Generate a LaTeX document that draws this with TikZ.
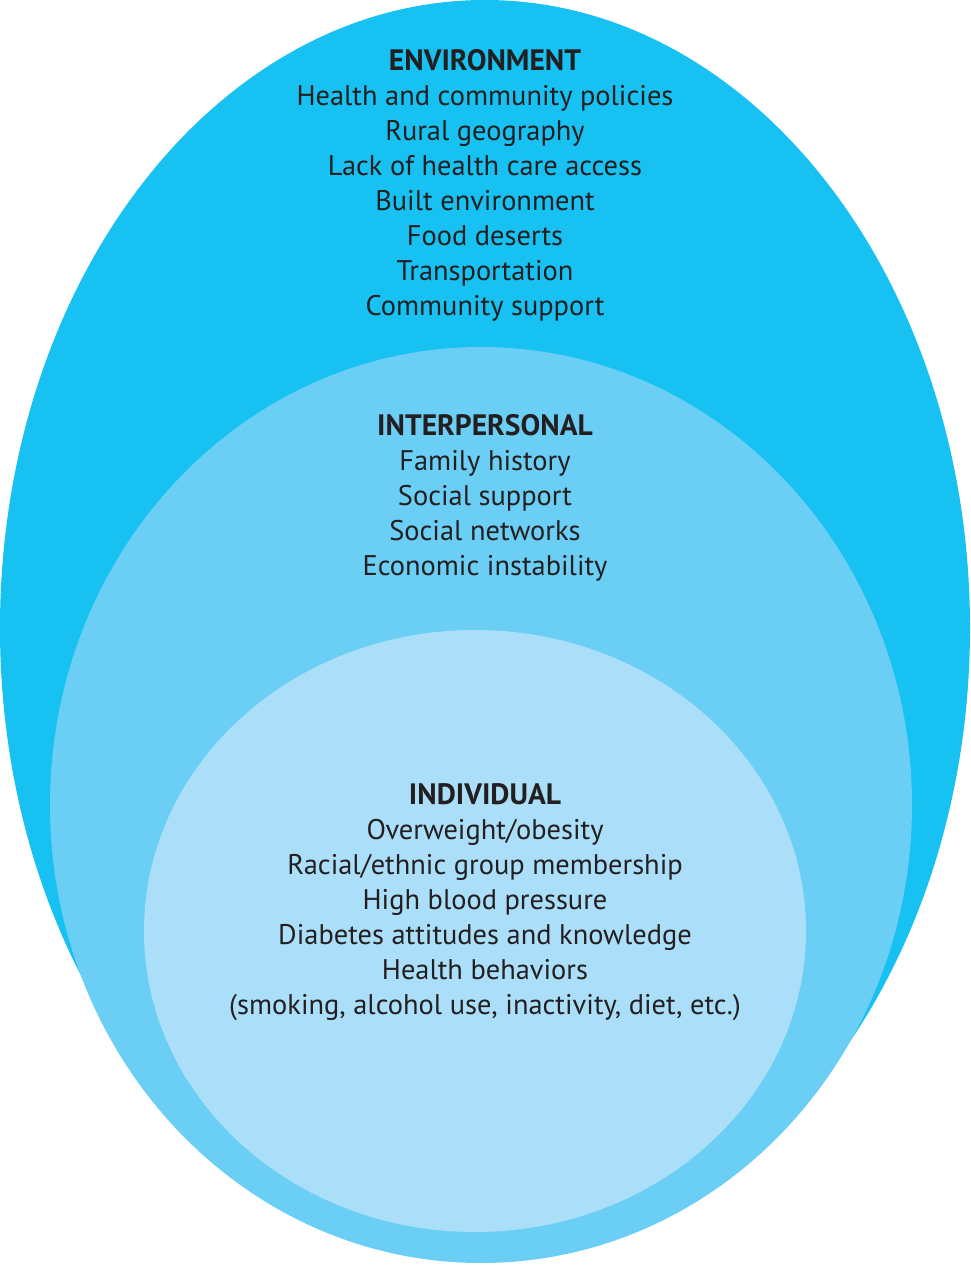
\documentclass[tikz,border=0pt]{standalone}
\usepackage{fontspec}
\setmainfont{PT Sans}
\definecolor{outerc}{HTML}{17C1F2}
\definecolor{midc}{HTML}{6BCEF5}
\definecolor{innerc}{HTML}{ABDFF9}
\definecolor{txt}{HTML}{231F20}
\tikzset{
  ln/.style={anchor=base, inner sep=0pt, text=txt, font=\fontsize{28.4}{32}\selectfont},
  hd/.style={ln, font=\fontsize{29.5}{32}\selectfont\bfseries},
}
\begin{document}
\begin{tikzpicture}[x=1pt,y=-1pt]
\useasboundingbox (0,0) rectangle (970,1265);
\fill[outerc] (485,628) ellipse [x radius=485, y radius=628];
\fill[midc] (481,805) ellipse [x radius=431, y radius=458];
\fill[innerc] (475,931) ellipse [x radius=331, y radius=301];
\node[hd] (envh) at (485,70.5) {ENVIRONMENT};
\foreach \t [count=\i] in {Health and community policies, Rural geography, Lack of health care access, Built environment, Food deserts, Transportation, Community support}
  \node[ln] (env\i) at (485,70.5+35*\i) {\t};
\node[hd] (inth) at (485,435.5) {INTERPERSONAL};
\foreach \t [count=\i] in {Family history, Social support, Social networks, Economic instability}
  \node[ln] (int\i) at (485,435.5+35*\i) {\t};
\node[hd] (indh) at (485,804.5) {INDIVIDUAL};
\foreach \t [count=\i] in {Overweight/obesity, Racial/ethnic group membership, High blood pressure, Diabetes attitudes and knowledge, Health behaviors, {(smoking, alcohol use, inactivity, diet, etc.)}}
  \node[ln] (ind\i) at (485,804.5+35*\i) {\t};
\end{tikzpicture}
\end{document}
